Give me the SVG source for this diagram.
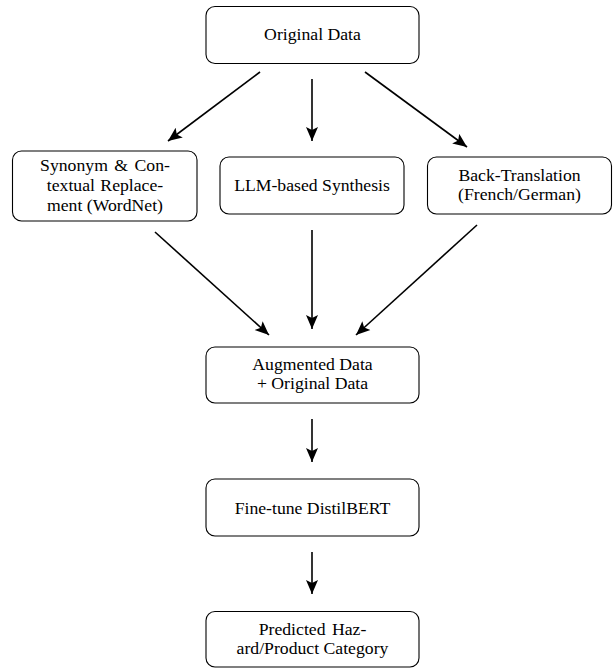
<svg xmlns="http://www.w3.org/2000/svg" width="614" height="668" viewBox="0 0 614 668">
<style>
.box{fill:#fff;stroke:#000;stroke-width:1.1}
.t{font-size:17.7px;fill:#000;text-anchor:middle}
.c{stroke:#000;stroke-width:1.6;fill:none;marker-end:url(#ah)}
</style>
<defs>
<marker id="ah" markerUnits="userSpaceOnUse" markerWidth="16" markerHeight="14" refX="14" refY="7" orient="auto">
<path d="M0,1 L14,7 L0,13 L3,7 Z" fill="#000"/>
</marker>
</defs>
<rect width="614" height="668" fill="#fff"/>
<g id="connectors">
<line class="c" x1="260" y1="72" x2="168" y2="141"/>
<line class="c" x1="312" y1="79" x2="312" y2="141"/>
<line class="c" x1="365" y1="72" x2="467" y2="147"/>
<line class="c" x1="155" y1="232" x2="269" y2="335"/>
<line class="c" x1="312" y1="230" x2="312" y2="329"/>
<line class="c" x1="477" y1="225" x2="356" y2="335"/>
<line class="c" x1="312" y1="419" x2="312" y2="462"/>
<line class="c" x1="312" y1="552" x2="312" y2="594"/>
</g>
<g font-family="Liberation Serif">
<g id="original">
<rect class="box" x="206" y="6.5" width="213" height="57" rx="9"/>
<text class="t" x="312.5" y="40">Original Data</text>
</g>
<g id="synonym">
<rect class="box" x="12.5" y="151" width="184.5" height="70" rx="9"/>
<text class="t" x="105" y="171" word-spacing="2">Synonym &amp; Con-</text>
<text class="t" x="105" y="191" word-spacing="1">textual Replace-</text>
<text class="t" x="105" y="211">ment (WordNet)</text>
</g>
<g id="llm">
<rect class="box" x="220" y="157" width="184" height="57" rx="9"/>
<text class="t" x="312" y="191">LLM-based Synthesis</text>
</g>
<g id="backtrans">
<rect class="box" x="427.5" y="157" width="184" height="57" rx="9"/>
<text class="t" x="519.5" y="181">Back-Translation</text>
<text class="t" x="519.5" y="200">(French/German)</text>
</g>
<g id="augmented">
<rect class="box" x="206" y="347" width="213" height="56" rx="9"/>
<text class="t" x="312.5" y="370">Augmented Data</text>
<text class="t" x="312.5" y="389">+ Original Data</text>
</g>
<g id="finetune">
<rect class="box" x="206" y="479" width="213" height="57" rx="9"/>
<text class="t" x="312.5" y="514">Fine-tune DistilBERT</text>
</g>
<g id="predicted">
<rect class="box" x="206" y="611.5" width="213" height="55.5" rx="9"/>
<text class="t" x="312.5" y="635" word-spacing="2">Predicted Haz-</text>
<text class="t" x="312.5" y="654">ard/Product Category</text>
</g>
</g>
</svg>
